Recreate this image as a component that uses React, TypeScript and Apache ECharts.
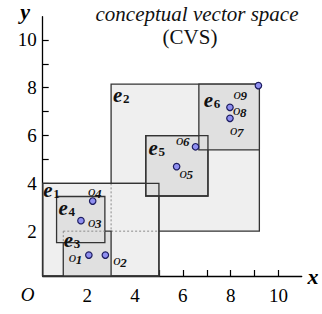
import React, { useEffect, useRef } from "react";
import * as echarts from "echarts";

// entities (hyper-rectangles) [x0, y0, x1, y1]
const E1 = [0, 0, 5, 4];
const E2 = [3, 2, 9.2, 8.15];
const E3 = [1, 0, 3, 2];
const E4 = [0.72, 1.52, 2.74, 3.45];
const E5 = [4.45, 3.47, 7.05, 6.0];
const E6 = [6.67, 5.4, 9.2, 8.15];

// objects (points)
const objectNames = ["1", "2", "3", "4", "5", "6", "7", "8", "9"];
const objectX = [2.07, 2.76, 1.74, 2.23, 5.74, 6.53, 7.97, 7.97, 9.16];
const objectY = [1.0, 1.0, 2.44, 3.26, 4.7, 5.53, 6.72, 7.18, 8.09];

const xTicks = [1, 2, 3, 4, 5, 6, 7, 8, 9, 10];
const xLabels = [2, 4, 6, 8, 10];
const yTicks = [1, 2, 3, 4, 5, 6, 7, 8, 9, 10];
const yLabels = [2, 4, 6, 8, 10];

const LIGHT = "#efefef";
const DARK = "#e0e0e0";
const EDGE = "#333333";
const SERIF = "Liberation Serif";

type Op = { kind: "rect" | "outline" | "dot"; r: number[]; fill?: string };

// drawing order (back to front)
const ops: Op[] = [
  { kind: "rect", r: E2, fill: LIGHT },
  { kind: "rect", r: E1, fill: LIGHT },
  { kind: "dot", r: [E2[0], E2[1], E2[0], E1[3]] },
  { kind: "dot", r: [E2[0], E2[1], E1[2], E2[1]] },
  { kind: "rect", r: E5, fill: DARK },
  { kind: "rect", r: E6, fill: DARK },
  { kind: "outline", r: E1 },
  { kind: "outline", r: E5 },
  { kind: "rect", r: E3, fill: DARK },
  { kind: "rect", r: E4, fill: DARK },
  { kind: "dot", r: [E3[0], E3[3], E4[2], E3[3]] },
  { kind: "dot", r: [E3[0], E4[1], E3[0], E3[3]] },
];

// entity labels: anchored at rect top-left, pixel offset
const entityLabels = [
  { sub: "1", r: E1, dx: 4, dy: 7 },
  { sub: "2", r: E2, dx: 2, dy: 11 },
  { sub: "3", r: E3, dx: 0.5, dy: 9 },
  { sub: "4", r: E4, dx: 2, dy: 11.5 },
  { sub: "5", r: E5, dx: 2.7, dy: 12.5 },
  { sub: "6", r: E6, dx: 5, dy: 15.5 },
];
// object label pixel offsets from the point
const objLabelOffsets = [
  [-20, 2], [8, 5], [7, 1], [-4.7, -10], [3, 6], [-19.5, -7], [0, 12], [3, 3], [-25, 8],
];

type TS = { size: number; italic?: boolean; bold?: boolean; align?: string; color?: string };
const txt = (x: number, y: number, text: string, s: TS) => ({
  type: "text",
  x,
  y,
  style: {
    text,
    fontFamily: SERIF,
    fontSize: s.size,
    fontStyle: s.italic ? "italic" : "normal",
    fontWeight: s.bold ? "bold" : "normal",
    fill: s.color || "#111",
    align: s.align || "left",
    verticalAlign: "middle",
  },
});

export default function App() {
  const ref = useRef<HTMLDivElement>(null);
  useEffect(() => {
    if (!ref.current) return;
    const chart = echarts.init(ref.current, null, { renderer: "svg" });

    const clampRect = (params: any, x0: number, y0: number, x1: number, y1: number) => {
      const cs = params.coordSys;
      const l = Math.max(Math.min(x0, x1), cs.x);
      const r = Math.min(Math.max(x0, x1), cs.x + cs.width);
      const t = Math.max(Math.min(y0, y1), cs.y);
      const b = Math.min(Math.max(y0, y1), cs.y + cs.height);
      return { x: l, y: t, width: r - l, height: b - t };
    };

    const shapesSeries = {
      type: "custom",
      z: 1,
      silent: true,
      data: ops.map((o) => o.r.slice()),
      renderItem: (params: any, api: any) => {
        const op = ops[params.dataIndex];
        const p0 = api.coord([api.value(0), api.value(3)]);
        const p1 = api.coord([api.value(2), api.value(1)]);
        if (op.kind === "dot") {
          return {
            type: "line",
            shape: { x1: p0[0], y1: p0[1], x2: p1[0], y2: p1[1] },
            style: { stroke: "#8a8a8a", lineWidth: 1, lineDash: [2, 2] },
          };
        }
        const sh = clampRect(params, p0[0], p0[1], p1[0], p1[1]);
        return {
          type: "rect",
          shape: sh,
          style: {
            fill: op.kind === "rect" ? op.fill : "none",
            stroke: EDGE,
            lineWidth: 1.3,
          },
        };
      },
    };

    const entityLabelSeries = {
      type: "custom",
      z: 3,
      silent: true,
      data: entityLabels.map((l) => [l.r[0], l.r[3]]),
      renderItem: (params: any, api: any) => {
        const l = entityLabels[params.dataIndex];
        const p = api.coord([api.value(0), api.value(1)]);
        const x = p[0] + l.dx;
        const y = p[1] + l.dy;
        return {
          type: "group",
          children: [
            txt(x, y, "e", { size: 21, italic: true, bold: true }),
            txt(x + 10, y + 3.5, l.sub, { size: 13, bold: true }),
          ],
        };
      },
    };

    const objLabelSeries = {
      type: "custom",
      z: 4,
      silent: true,
      data: objectX.map((x, i) => [x, objectY[i]]),
      renderItem: (params: any, api: any) => {
        const i = params.dataIndex;
        const p = api.coord([api.value(0), api.value(1)]);
        const x = p[0] + objLabelOffsets[i][0];
        const y = p[1] + objLabelOffsets[i][1];
        return {
          type: "group",
          children: [
            txt(x, y, "o", { size: 15, italic: true }),
            txt(x + 7, y + 2, objectNames[i], { size: 13, italic: true, bold: true }),
          ],
        };
      },
    };

    const axisCommon = {
      type: "value",
      axisLine: { show: true, onZero: false, lineStyle: { color: "#000", width: 1.3 } },
      splitLine: { show: false },
    };

    chart.setOption({
      animation: false,
      backgroundColor: "#ffffff",
      textStyle: { fontFamily: SERIF },
      grid: { left: 42.7, top: 16.7, width: 259, height: 259.3, containLabel: false },
      xAxis: {
        ...axisCommon,
        min: 0.14,
        max: 10.97,
        axisTick: { show: true, inside: true, length: 6, customValues: xTicks, lineStyle: { color: "#000", width: 1.2 } },
        axisLabel: {
          show: true,
          customValues: xLabels,
          margin: 10,
          color: "#000",
          fontFamily: SERIF,
          fontSize: 19,
        },
      },
      yAxis: {
        ...axisCommon,
        min: 0.125,
        max: 10.97,
        axisTick: { show: true, inside: true, length: 6, customValues: yTicks, lineStyle: { color: "#000", width: 1.2 } },
        axisLabel: {
          show: true,
          customValues: yLabels,
          margin: 6,
          color: "#000",
          fontFamily: SERIF,
          fontSize: 19,
        },
      },
      graphic: [
        txt(27.7, 294, "O", { size: 19, italic: true, align: "center", color: "#000" }),
        txt(313, 276, "x", { size: 22, italic: true, bold: true, align: "center", color: "#000" }),
        txt(25, 11, "y", { size: 22, italic: true, bold: true, align: "center", color: "#000" }),
        txt(197, 14, "conceptual vector space", { size: 21, italic: true, align: "center" }),
        txt(190, 37, "(CVS)", { size: 21, align: "center" }),
      ],
      series: [
        shapesSeries,
        {
          type: "scatter",
          z: 5,
          silent: true,
          symbol: "circle",
          symbolSize: 6.5,
          data: objectX.map((x, i) => [x, objectY[i]]),
          itemStyle: { color: "#8f8ff0", borderColor: "#1c1c60", borderWidth: 1.2, opacity: 1 },
        },
        entityLabelSeries,
        objLabelSeries,
      ],
    });
    return () => chart.dispose();
  }, []);
  return (
    <div
      ref={ref}
      style={{ position: "fixed", left: 0, top: 0, width: 322, height: 314, background: "#fff" }}
    />
  );
}
